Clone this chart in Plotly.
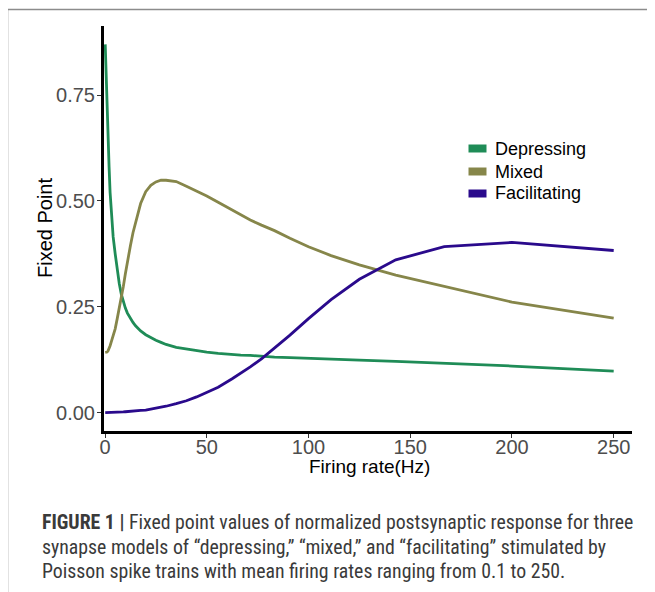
import plotly.graph_objects as go

# ---------------- data ----------------
firing_rate = [0.1, 0.5, 1, 1.5, 2, 2.5, 3, 4, 5, 6, 7, 8, 9, 10, 11, 12.5, 13.75, 15, 17.5, 20,
               22.5, 25, 27.5, 30, 35, 40, 45, 50, 55.6, 62.5, 66.7, 71.4, 76.9, 83.3, 90.9,
               100, 111.1, 125, 142.9, 166.7, 200, 250]

depressing = [0.870, 0.800, 0.720, 0.650, 0.580, 0.520, 0.475, 0.415, 0.375, 0.335, 0.305, 0.280,
              0.262, 0.247, 0.235, 0.222, 0.213, 0.205, 0.193, 0.184,
              0.177, 0.171, 0.166, 0.161, 0.154, 0.150, 0.146, 0.143, 0.140, 0.137, 0.136, 0.135,
              0.133, 0.131, 0.130, 0.128, 0.126, 0.124, 0.121, 0.117, 0.110, 0.098]

mixed = [0.142, 0.142, 0.143, 0.146, 0.151, 0.158, 0.166, 0.182, 0.198, 0.222, 0.245, 0.268,
         0.298, 0.328, 0.357, 0.395, 0.425, 0.450, 0.494, 0.522,
         0.537, 0.545, 0.549, 0.549, 0.546, 0.535, 0.524, 0.512, 0.497, 0.479, 0.467, 0.455,
         0.443, 0.430, 0.412, 0.392, 0.371, 0.349, 0.325, 0.298, 0.261, 0.223]

facilitating = [0.0, 0.0, 0.0, 0.0, 0.0, 0.0, 0.0, 0.0, 0.0005, 0.0007, 0.001, 0.0012,
                0.0015, 0.002, 0.0022, 0.003, 0.0035, 0.004, 0.005, 0.006,
                0.008, 0.010, 0.012, 0.015, 0.021, 0.028, 0.037, 0.047, 0.060, 0.080, 0.093, 0.108,
                0.127, 0.152, 0.183, 0.222, 0.267, 0.315, 0.361, 0.392, 0.402, 0.383]

series_names = ["Depressing", "Mixed", "Facilitating"]
series_values = [depressing, mixed, facilitating]
series_colors = ["#1F8C57", "#86864A", "#2A0A8C"]

x_ticks = [0, 50, 100, 150, 200, 250]
y_ticks = [0.0, 0.25, 0.5, 0.75]
y_tick_labels = ["0.00", "0.25", "0.50", "0.75"]

x_title = "Firing rate(Hz)"
y_title = "Fixed Point"
caption_lines = [
    "<b>FIGURE 1 |</b> Fixed point values of normalized postsynaptic response for three",
    "synapse models of \u201cdepressing,\u201d \u201cmixed,\u201d and \u201cfacilitating\u201d stimulated by",
    "Poisson spike trains with mean firing rates ranging from 0.1 to 250.",
]

# ---------------- layout geometry (page pixels) ----------------
OFF = 8                      # default body margin of the page
W, H = 655 - OFF, 592 - OFF
PL, PR, PT, PB = 104, 632, 26, 431   # plot area in page pixels


def px(xp):
    return (xp - PL) / (PR - PL)


def py(yp):
    return (PB - yp) / (PB - PT)


FONT = "Liberation Sans, Arial, Helvetica, sans-serif"
NARROW = "Liberation Sans Narrow, Arial Narrow, Roboto Condensed, Roboto, sans-serif"

fig = go.Figure()
for name, vals, col in zip(series_names, series_values, series_colors):
    fig.add_trace(go.Scatter(x=firing_rate, y=vals, mode="lines", name=name,
                             line=dict(color=col, width=2.8), showlegend=False))

shapes = []
annotations = []

# outer frame
shapes.append(dict(type="rect", xref="paper", yref="paper",
                   x0=px(7.5), x1=px(720), y0=py(720), y1=py(9.5),
                   line=dict(color="#8c8c8c", width=1.5), layer="below"))

# manual legend (filled keys)
leg_rows = [148.5, 171.5, 193.5]
for name, col, yc in zip(series_names, series_colors, leg_rows):
    shapes.append(dict(type="rect", xref="paper", yref="paper",
                       x0=px(468.5), x1=px(486.5), y0=py(yc + 4), y1=py(yc - 4),
                       line=dict(width=0), fillcolor=col))
    annotations.append(dict(text=name, xref="paper", yref="paper",
                            x=px(492.5), y=py(yc), xanchor="left", yanchor="middle",
                            showarrow=False, font=dict(family=FONT, size=18, color="#000000")))

# axis titles
annotations.append(dict(text=x_title, xref="paper", yref="paper", x=px(369), y=py(467),
                        xanchor="center", yanchor="middle", showarrow=False,
                        font=dict(family=FONT, size=19, color="#000000")))
annotations.append(dict(text=y_title, xref="paper", yref="paper", x=px(45), y=py(228),
                        xanchor="center", yanchor="middle", showarrow=False, textangle=-90,
                        font=dict(family=FONT, size=20, color="#000000")))

# caption
for line, yc in zip(caption_lines, [522, 547, 571]):
    annotations.append(dict(text=line, xref="paper", yref="paper", x=px(40), y=py(yc),
                            xanchor="left", yanchor="middle", showarrow=False, align="left",
                            font=dict(family=NARROW, size=19.8, color="#3a3a3a")))

fig.update_layout(
    width=W, height=H,
    margin=dict(l=PL - OFF, r=W - (PR - OFF), t=PT - OFF, b=H - (PB - OFF), pad=0),
    paper_bgcolor="white", plot_bgcolor="white",
    shapes=shapes, annotations=annotations,
    xaxis=dict(range=[-0.5, 259], tickvals=x_ticks, ticktext=[str(v) for v in x_ticks],
               showgrid=False, zeroline=False, showline=True, linecolor="black", linewidth=3,
               ticks="outside", ticklen=4, tickwidth=1.2, tickcolor="#333333",
               ticklabelstandoff=-8,
               tickfont=dict(family=FONT, size=20, color="#4D4D4D")),
    yaxis=dict(range=[-0.0435, 0.9135], tickvals=y_ticks, ticktext=y_tick_labels,
               showgrid=False, zeroline=False, showline=True, linecolor="black", linewidth=3,
               ticks="outside", ticklen=4, tickwidth=1.2, tickcolor="#333333",
               ticklabelstandoff=-2,
               tickfont=dict(family=FONT, size=20, color="#4D4D4D")),
    showlegend=False,
)

fig.write_html("out.html")
